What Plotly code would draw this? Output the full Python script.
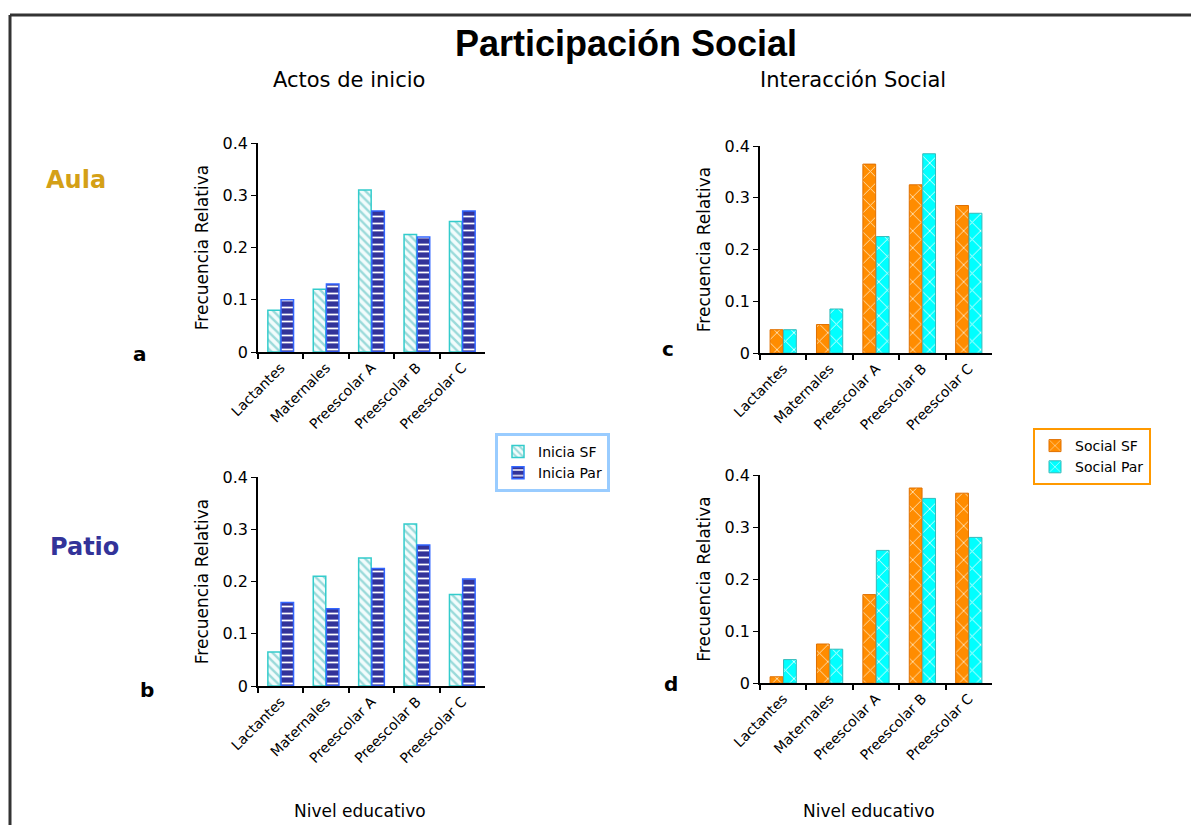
import plotly.graph_objects as go

W, H = 1199, 825
OFF = 8  # the page body adds an 8px margin; compensate so marks land where the reference has them

categories = ["Lactantes", "Maternales", "Preescolar A", "Preescolar B", "Preescolar C"]

# Panel a: Aula - Actos de inicio
aula_inicia_sf = [0.08, 0.12, 0.31, 0.225, 0.25]
aula_inicia_par = [0.10, 0.13, 0.27, 0.22, 0.27]
# Panel b: Patio - Actos de inicio
patio_inicia_sf = [0.065, 0.21, 0.245, 0.31, 0.175]
patio_inicia_par = [0.16, 0.148, 0.225, 0.27, 0.205]
# Panel c: Aula - Interacción social
aula_social_sf = [0.045, 0.055, 0.365, 0.325, 0.285]
aula_social_par = [0.045, 0.085, 0.225, 0.385, 0.27]
# Panel d: Patio - Interacción social
patio_social_sf = [0.012, 0.075, 0.17, 0.375, 0.365]
patio_social_par = [0.045, 0.065, 0.255, 0.355, 0.28]

y_ticks = [0, 0.1, 0.2, 0.3, 0.4]
y_ticktext = ["0", "0.1", "0.2", "0.3", "0.4"]

FONT = "DejaVu Sans, sans-serif"
FONT_TITLE = "Liberation Sans, Arial, sans-serif"


def px(x):
    return (x - OFF) / W


def py(y):
    return 1 - (y - OFF) / H


fig = go.Figure()

sf_style = dict(marker=dict(color="#F2FCFC", line=dict(color="#33CCCC", width=1.5),
                            pattern=dict(shape="\\", fgcolor="#9ADADA", bgcolor="#F2FCFC", size=6, solidity=0.4)))
par_style = dict(marker=dict(color="#333399", line=dict(color="#3366FF", width=1.5),
                             pattern=dict(shape="-", fgcolor="#FFFFFF", bgcolor="#333399", size=7, solidity=0.25)))
ssf_style = dict(marker=dict(color="#FF8C00", line=dict(color="#E07000", width=1),
                             pattern=dict(shape="x", fgcolor="#FFE0B0", bgcolor="#FF8C00", size=12, solidity=0.15)))
spar_style = dict(marker=dict(color="#00FFFF", line=dict(color="#33BBBB", width=1),
                              pattern=dict(shape="x", fgcolor="#E0FFFF", bgcolor="#00FFFF", size=12, solidity=0.15)))

fig.add_trace(go.Bar(x=categories, y=aula_inicia_sf, name="Inicia SF", xaxis="x", yaxis="y",
                     legend="legend", showlegend=True, **sf_style))
fig.add_trace(go.Bar(x=categories, y=aula_inicia_par, name="Inicia Par", xaxis="x", yaxis="y",
                     legend="legend", showlegend=True, **par_style))
fig.add_trace(go.Bar(x=categories, y=patio_inicia_sf, name="Inicia SF", xaxis="x2", yaxis="y2",
                     showlegend=False, **sf_style))
fig.add_trace(go.Bar(x=categories, y=patio_inicia_par, name="Inicia Par", xaxis="x2", yaxis="y2",
                     showlegend=False, **par_style))
fig.add_trace(go.Bar(x=categories, y=aula_social_sf, name="Social SF", xaxis="x3", yaxis="y3",
                     legend="legend2", showlegend=True, **ssf_style))
fig.add_trace(go.Bar(x=categories, y=aula_social_par, name="Social Par", xaxis="x3", yaxis="y3",
                     legend="legend2", showlegend=True, **spar_style))
fig.add_trace(go.Bar(x=categories, y=patio_social_sf, name="Social SF", xaxis="x4", yaxis="y4",
                     showlegend=False, **ssf_style))
fig.add_trace(go.Bar(x=categories, y=patio_social_par, name="Social Par", xaxis="x4", yaxis="y4",
                     showlegend=False, **spar_style))

panels = {
    "": dict(x0=258, x1=485, y0=352, y1=143),
    "2": dict(x0=258, x1=485, y0=686, y1=477),
    "3": dict(x0=760, x1=992, y0=353, y1=146),
    "4": dict(x0=760, x1=992, y0=683, y1=475),
}

layout = dict(
    template="none",
    width=W, height=H, autosize=False,
    margin=dict(l=0, r=0, t=0, b=0, pad=0, autoexpand=False),
    paper_bgcolor="white", plot_bgcolor="white",
    font=dict(family=FONT, color="black", size=13),
    barmode="group", bargap=0.42, bargroupgap=0.05,
)

for k, p in panels.items():
    xa = "xaxis" + k
    ya = "yaxis" + k
    layout[xa] = dict(
        domain=[px(p["x0"]), px(p["x1"])], anchor="y" + k, automargin=False,
        showline=True, linecolor="black", linewidth=2,
        ticks="outside", tickcolor="black", ticklen=5, tickwidth=1.5, tickson="boundaries",
        tickangle=-45, tickfont=dict(size=14, family=FONT),
        showgrid=False, zeroline=False, fixedrange=True,
    )
    layout[ya] = dict(
        domain=[py(p["y0"]), py(p["y1"])], anchor="x" + k, automargin=False,
        range=[0, 0.4], tickvals=y_ticks, ticktext=y_ticktext,
        showline=True, linecolor="black", linewidth=1.5,
        ticks="outside", tickcolor="black", ticklen=5,
        tickfont=dict(size=16, family=FONT),
        showgrid=False, zeroline=False, fixedrange=True,
        title=dict(text="Frecuencia Relativa", font=dict(size=17, family=FONT), standoff=10),
    )

layout["legend"] = dict(
    x=px(495), y=py(433), xanchor="left", yanchor="top",
    bordercolor="#99CCFF", borderwidth=3, bgcolor="white",
    font=dict(size=14, family=FONT), itemwidth=30, tracegroupgap=0,
)
layout["legend2"] = dict(
    x=px(1033), y=py(428), xanchor="left", yanchor="top",
    bordercolor="#FF9900", borderwidth=2, bgcolor="white",
    font=dict(size=14, family=FONT), itemwidth=30, tracegroupgap=0,
)

annotations = [
    dict(text="<b>Participación Social</b>", x=px(626), y=py(43), font=dict(size=36, family=FONT_TITLE)),
    dict(text="Actos de inicio", x=px(349), y=py(80), font=dict(size=21, family=FONT)),
    dict(text="Interacción Social", x=px(853), y=py(80), font=dict(size=21, family=FONT)),
    dict(text="<b>Aula</b>", x=px(76), y=py(180), font=dict(size=24, family=FONT, color="#D4A017")),
    dict(text="<b>Patio</b>", x=px(84), y=py(547), font=dict(size=24, family=FONT, color="#333399")),
    dict(text="<b>a</b>", x=px(140), y=py(354), font=dict(size=20, family=FONT)),
    dict(text="<b>b</b>", x=px(147), y=py(690), font=dict(size=20, family=FONT)),
    dict(text="<b>c</b>", x=px(668), y=py(349), font=dict(size=20, family=FONT)),
    dict(text="<b>d</b>", x=px(671), y=py(684), font=dict(size=20, family=FONT)),
    dict(text="Nivel educativo", x=px(360), y=py(811), font=dict(size=17, family=FONT)),
    dict(text="Nivel educativo", x=px(869), y=py(811), font=dict(size=17, family=FONT)),
]
for a in annotations:
    a.update(xref="paper", yref="paper", showarrow=False, xanchor="center", yanchor="middle")
layout["annotations"] = annotations

layout["shapes"] = [
    dict(type="line", xref="paper", yref="paper", x0=px(10), x1=1, y0=py(15), y1=py(15),
         line=dict(color="#333333", width=3)),
    dict(type="line", xref="paper", yref="paper", x0=px(10), x1=px(10), y0=py(15), y1=0,
         line=dict(color="#333333", width=3)),
]

fig.update_layout(**layout)
fig.write_html("out.html")
